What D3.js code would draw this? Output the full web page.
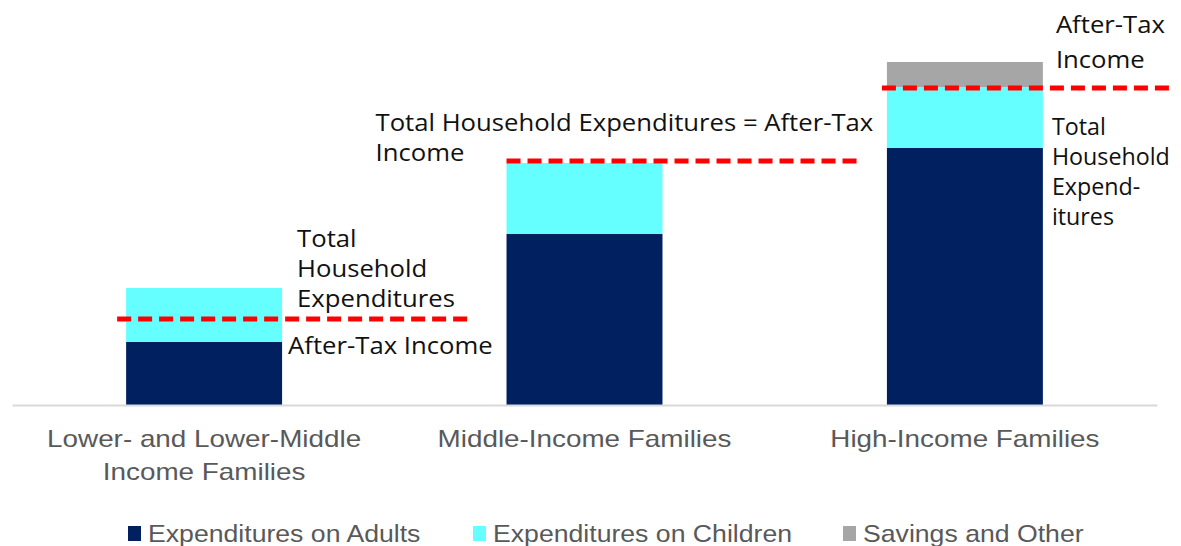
<!DOCTYPE html>
<html>
<head>
<meta charset="utf-8">
<script src="https://cdn.jsdelivr.net/npm/d3@7/dist/d3.min.js"></script>
<style>
  html, body { margin: 0; padding: 0; background: #fff; }
  svg { display: block; }
</style>
</head>
<body>
<svg id="chart" width="1181" height="546"></svg>
<script>
// Family groups shown along the x axis
const categories = ["lower", "middle", "high"];
const categoryLabels = [
  ["Lower- and Lower-Middle", "Income Families"],
  ["Middle-Income Families"],
  ["High-Income Families"]
];

// Stacked components (relative units)
const seriesNames = ["Expenditures on Adults", "Expenditures on Children", "Savings and Other"];
const adults   = [63, 171, 257];
const children = [54, 71, 61];
const savings  = [0, 0, 25];

// After-tax income level for each group (dashed reference line)
const afterTaxIncome = [86, 244, 317];

// Annotation text blocks next to each bar
const noteUpper = [
  ["Total", "Household", "Expenditures"],
  ["Total Household Expenditures = After-Tax", "Income"],
  ["After-Tax", "Income"]
];
const noteLower = [
  ["After-Tax Income"],
  [],
  ["Total", "Household", "Expend-", "itures"]
];

const colors = ["#002060", "#66ffff", "#a6a6a6"];

const svg = d3.select("#chart");

const x = d3.scaleBand()
  .domain(categories)
  .range([12, 1157])
  .paddingInner(0.59)
  .paddingOuter(0.3);

const y = d3.scaleLinear().domain([0, 400]).range([405, 5]);

// Build stack input
const rows = categories.map((c, i) => ({
  cat: c,
  [seriesNames[0]]: adults[i],
  [seriesNames[1]]: children[i],
  [seriesNames[2]]: savings[i]
}));
const stacked = d3.stack().keys(seriesNames)(rows);

// Bars
svg.append("g").selectAll("g")
  .data(stacked)
  .join("g")
  .attr("fill", (d, i) => colors[i])
  .selectAll("rect")
  .data(d => d.filter(s => s[1] > s[0]))
  .join("rect")
  .attr("x", d => x(d.data.cat))
  .attr("width", x.bandwidth())
  .attr("y", d => y(d[1]))
  .attr("height", d => y(d[0]) - y(d[1]));

// X axis
const xAxis = svg.append("g")
  .attr("transform", `translate(0,${y(0)})`)
  .call(d3.axisBottom(x).tickSize(0).tickFormat(""));
xAxis.select(".domain").attr("stroke", "#d9d9d9").attr("stroke-width", 2);
xAxis.selectAll(".tick text").remove();
xAxis.selectAll(".tick").each(function(d, i) {
  const t = d3.select(this).append("text")
    .attr("text-anchor", "middle")
    .attr("transform", "scale(1.16,1)")
    .attr("fill", "#595959")
    .style("font-family", "'Liberation Sans', Arial, sans-serif")
    .style("font-size", "24px");
  categoryLabels[i].forEach((line, k) => {
    t.append("tspan").attr("x", 0).attr("y", 42 + k * 33).text(line);
  });
});

// Dashed after-tax income lines; extents relative to each bar
const lineExtent = [[-9, 186], [0, 197], [-5, 130]];
svg.append("g").selectAll("line")
  .data(categories)
  .join("line")
  .attr("x1", (c, i) => x(c) + lineExtent[i][0])
  .attr("x2", (c, i) => x(c) + x.bandwidth() + lineExtent[i][1])
  .attr("y1", (c, i) => y(afterTaxIncome[i]))
  .attr("y2", (c, i) => y(afterTaxIncome[i]))
  .attr("stroke", "#ff0000")
  .attr("stroke-width", 5)
  .attr("stroke-dasharray", "14,7");

// Annotations
function note(lines, x0, y0, lh, sx) {
  const g = svg.append("g").attr("transform", `translate(${x0},${y0}) scale(${sx},1)`);
  const t = g.append("text")
    .attr("fill", "#111")
    .style("font-family", "'Open Sans', sans-serif")
    .style("font-size", "24px");
  lines.forEach((line, k) => {
    t.append("tspan").attr("x", 0).attr("y", k * lh).text(line);
  });
}
const xe = i => x(categories[i]) + x.bandwidth();
note(noteUpper[0], xe(0) + 15, 247, 30, 1.07);
note(noteLower[0], xe(0) + 6, 354, 30, 1.07);
note(noteUpper[1], x(categories[1]) - 131, 131, 30, 1.07);
note(noteUpper[2], xe(2) + 13, 33, 35, 1.07);
note(noteLower[2], xe(2) + 9, 135, 30, 0.97);

// Legend
const legendX = [128, 473, 843];
const legend = svg.append("g").selectAll("g")
  .data(seriesNames)
  .join("g")
  .attr("transform", (d, i) => `translate(${legendX[i]},0)`);
legend.append("rect")
  .attr("x", 0).attr("y", 526).attr("width", 13).attr("height", 15)
  .attr("fill", (d, i) => colors[i]);
legend.append("text")
  .attr("transform", "translate(20,542) scale(1.11,1)")
  .attr("fill", "#595959")
  .style("font-family", "'Liberation Sans', Arial, sans-serif")
  .style("font-size", "24px")
  .text(d => d);
</script>
</body>
</html>
